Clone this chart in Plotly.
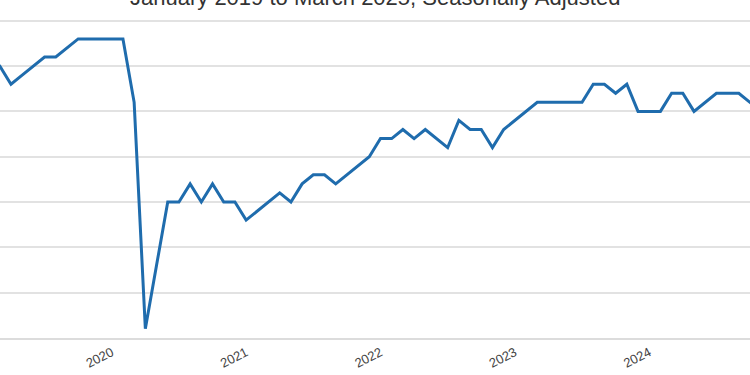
import plotly.graph_objects as go

# Civilian labor force participation rate, monthly, Jan 2019 - Mar 2025 (percent)
years = [2019, 2020, 2021, 2022, 2023, 2024, 2025]
month_names = ["Jan", "Feb", "Mar", "Apr", "May", "Jun",
               "Jul", "Aug", "Sep", "Oct", "Nov", "Dec"]
months = [f"{m} {y}" for y in years for m in month_names][:75]

rate_2019 = [63.1, 63.1, 63.0, 62.8, 62.9, 63.0, 63.1, 63.1, 63.2, 63.3, 63.3, 63.3]
rate_2020 = [63.3, 63.3, 62.6, 60.1, 60.8, 61.5, 61.5, 61.7, 61.5, 61.7, 61.5, 61.5]
rate_2021 = [61.3, 61.4, 61.5, 61.6, 61.5, 61.7, 61.8, 61.8, 61.7, 61.8, 61.9, 62.0]
rate_2022 = [62.2, 62.2, 62.3, 62.2, 62.3, 62.2, 62.1, 62.4, 62.3, 62.3, 62.1, 62.3]
rate_2023 = [62.4, 62.5, 62.6, 62.6, 62.6, 62.6, 62.6, 62.8, 62.8, 62.7, 62.8, 62.5]
rate_2024 = [62.5, 62.5, 62.7, 62.7, 62.5, 62.6, 62.7, 62.7, 62.7, 62.6, 62.5, 62.5]
rate_2025 = [62.6, 62.4, 62.5]
rates = rate_2019 + rate_2020 + rate_2021 + rate_2022 + rate_2023 + rate_2024 + rate_2025

tick_labels = ["2020", "2021", "2022", "2023", "2024"]
title_text = "January 2019 to March 2025, Seasonally Adjusted"

x_idx = list(range(len(months)))
tick_vals = [months.index(f"Jan {t}") for t in tick_labels]

fig = go.Figure()
fig.add_trace(go.Scatter(
    x=x_idx, y=rates, mode="lines",
    line=dict(color="#1f6cad", width=3),
    text=months, hovertemplate="%{text}: %{y:.1f}%<extra></extra>",
    showlegend=False,
))

fig.update_layout(
    width=750, height=375,
    margin=dict(l=0, r=0, t=19, b=37),
    paper_bgcolor="white", plot_bgcolor="white",
    font=dict(family="Liberation Sans, Arial, sans-serif", color="#444"),
    annotations=[dict(
        text=title_text, xref="paper", yref="paper", x=0.5, y=1.023,
        xanchor="center", yanchor="bottom", showarrow=False,
        font=dict(size=22, color="#333"),
    )],
)
fig.update_xaxes(
    range=[2.02, 69.0], tickmode="array", tickvals=tick_vals, ticktext=tick_labels,
    tickangle=-27, tickfont=dict(size=13, color="#444"),
    showgrid=False, zeroline=False, showline=True, linecolor="#dcdcdc", linewidth=2,
    ticks="",
)
fig.update_yaxes(
    range=[59.998, 63.52], dtick=0.5, showticklabels=False,
    showgrid=True, gridcolor="#e2e2e2", gridwidth=1.5, zeroline=False, showline=False,
)

fig.write_html(
    "out.html",
    config={"displayModeBar": False},
    post_script="document.body.style.margin='0';document.body.style.overflow='hidden';",
)
